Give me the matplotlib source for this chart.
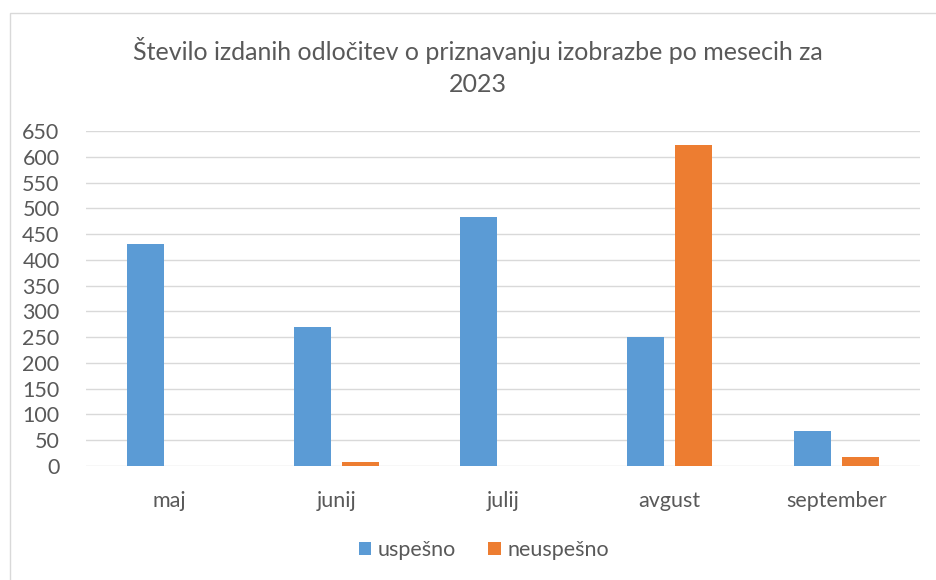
import matplotlib.pyplot as plt
import numpy as np
from matplotlib.patches import Rectangle

months = ['maj', 'junij', 'julij', 'avgust', 'september']
uspesno = [430, 270, 484, 251, 67]
neuspesno = [0, 8, 0, 623, 18]
yticks = list(range(0, 651, 50))

plt.rcParams['font.family'] = ['Lato', 'DejaVu Sans']

fig = plt.figure(figsize=(9.36, 5.8), dpi=100)
fig.patches.append(Rectangle((10 / 936, -0.1), 1.2, 1.1 - 13 / 580, transform=fig.transFigure,
                             fill=False, edgecolor='#D9D9D9', linewidth=1.0))

ax = fig.add_axes([86 / 936, 114 / 580, 834 / 936, 335 / 580])
x = np.arange(len(months))
w = 0.222
ax.bar(x - 0.144, uspesno, w, color='#5B9BD5', label='uspešno', zorder=3)
ax.bar(x + 0.144, neuspesno, w, color='#ED7D31', label='neuspešno', zorder=3)

ax.set_xlim(-0.5, len(months) - 0.5)
ax.set_ylim(0, 650)
ax.set_yticks(yticks)
ax.yaxis.grid(True, color='#D9D9D9', linewidth=1.0, zorder=0)
for s in ax.spines.values():
    s.set_visible(False)
ax.tick_params(axis='both', length=0, labelsize=15.5, labelcolor='#595959')
ax.tick_params(axis='y', pad=19)
ax.tick_params(axis='x', pad=18)
ax.set_xticks(x)
ax.set_xticklabels(months)

title_font = dict(ha='center', va='center', fontsize=18, color='#595959')
fig.text(478 / 936, 1 - 50 / 580, 'Število izdanih odločitev o priznavanju izobrazbe po mesecih za',
         **title_font)
fig.text(478 / 936, 1 - 85 / 580, '2023', **title_font)

fig.legend(loc='center', bbox_to_anchor=(484 / 936, 1 - 550 / 580), ncol=2, frameon=False,
           fontsize=15.5, labelcolor='#595959', handlelength=0.6, handleheight=0.6,
           handletextpad=0.3, columnspacing=1.5)

fig.savefig('out.png', dpi=100)
